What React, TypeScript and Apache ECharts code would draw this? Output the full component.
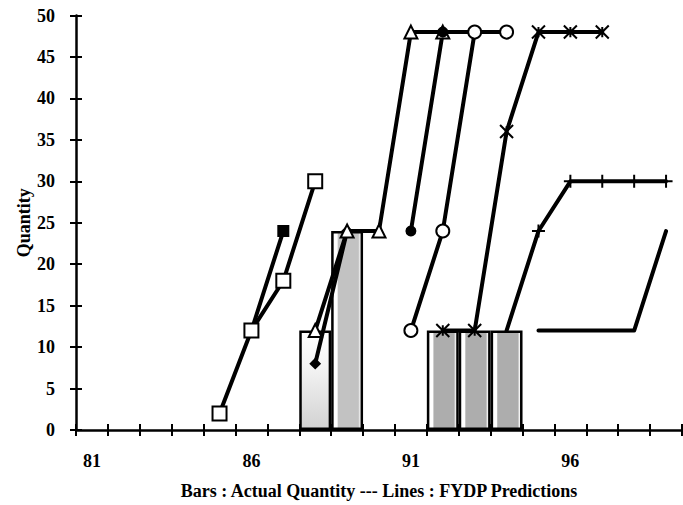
import React, { useEffect, useRef } from "react";
import * as echarts from "echarts";

// ---- data (year, quantity) ----
const years = ["81", "82", "83", "84", "85", "86", "87", "88", "89", "90", "91", "92", "93", "94", "95", "96", "97", "98", "99"];
const yTicks = { min: 0, max: 50, step: 5 };

const actualQty: [number, number][] = [[88, 12], [89, 24], [92, 12], [93, 12], [94, 12]];

const predSquare: [number, number][] = [[85, 2], [86, 12], [87, 18], [88, 30]];
const predFilledSquare: [number, number][] = [[86, 12], [87, 24]];
const predDiamond: [number, number][] = [[88, 8], [89, 24]];
const predTriangle: [number, number][] = [[88, 12], [89, 24], [90, 24], [91, 48], [92, 48]];
const predDot: [number, number][] = [[91, 24], [92, 48], [93, 48]];
const predCircle: [number, number][] = [[91, 12], [92, 24], [93, 48], [94, 48]];
const predStar: [number, number][] = [[92, 12], [93, 12], [94, 36], [95, 48], [96, 48], [97, 48]];
const predPlus: [number, number][] = [[94, 12], [95, 24], [96, 30], [97, 30], [98, 30], [99, 30]];
const predPlain: [number, number][] = [[95, 12], [96, 12], [97, 12], [98, 12], [99, 24]];

const xTitle = "Bars : Actual Quantity --- Lines : FYDP Predictions";
const yTitle = "Quantity";

const FONT = '"Liberation Serif", "Times New Roman", serif';

const toCat = (pts: [number, number][]) => pts.map(([x, y]) => [String(x), y]);

const STAR = "path://M0,0L10,10M10,0L0,10M5,1L5,9";
const PLUS = "path://M5,0L5,10M0,5L10,5";

function barFill(year: number) {
  if (year === 88) {
    return {
      type: "linear", x: 0, y: 0, x2: 0, y2: 1,
      colorStops: [
        { offset: 0, color: "#ffffff" },
        { offset: 0.35, color: "#f4f4f4" },
        { offset: 1, color: "#d2d2d2" },
      ],
    };
  }
  const g = year === 89 ? "#c2c2c2" : "#adadad";
  return {
    type: "linear", x: 0, y: 0, x2: 1, y2: 0,
    colorStops: [
      { offset: 0, color: "#ffffff" },
      { offset: 0.16, color: "#ffffff" },
      { offset: 0.2, color: g },
      { offset: 0.88, color: g },
      { offset: 0.95, color: "#ffffff" },
      { offset: 1, color: "#ffffff" },
    ],
  };
}

function lineSeries(name: string, pts: any[], symbol: string, size: number, filled: boolean, z = 3) {
  return {
    name,
    type: "line",
    data: pts,
    symbol,
    symbolSize: size,
    showSymbol: true,
    showAllSymbol: true,
    connectNulls: false,
    z,
    lineStyle: { color: "#000", width: 4, cap: "round", join: "round" },
    itemStyle: { color: filled ? "#000" : "#fff", borderColor: "#000", borderWidth: 2 },
    emphasis: { disabled: true },
  };
}

export default function App() {
  const ref = useRef<HTMLDivElement>(null);
  useEffect(() => {
    if (!ref.current) return;
    const chart = echarts.init(ref.current, null, { renderer: "svg" });
    const labelStyle = { color: "#000", fontSize: 18, fontWeight: "bold", fontFamily: FONT };

    const plusData = toCat(predPlus).map((d, i) => (i === 0 ? { value: d, symbol: "none" } : d));
    const plainData = toCat(predPlain);

    chart.setOption({
      animation: false,
      backgroundColor: "#fff",
      grid: { left: 76, right: 1, top: 15.5, bottom: 74.5 },
      xAxis: [
        {
          type: "category",
          data: years,
          position: "bottom",
          boundaryGap: true,
          axisLine: { onZero: false, lineStyle: { color: "#000", width: 2.5 } },
          axisTick: { show: true, interval: 0, length: 6, lineStyle: { color: "#000", width: 2 } },
          axisLabel: { ...labelStyle, interval: 4, margin: 22 },
          splitLine: { show: false },
          name: xTitle,
          nameLocation: "middle",
          nameGap: 52,
          nameMoveOverlap: false,
          nameTextStyle: { ...labelStyle },
        },
        {
          type: "category",
          data: years,
          position: "bottom",
          boundaryGap: true,
          axisLine: { show: false, onZero: false },
          axisTick: { show: true, inside: true, interval: 0, length: 6, lineStyle: { color: "#000", width: 2 } },
          axisLabel: { show: false },
          splitLine: { show: false },
        },
      ],
      yAxis: [
        {
          type: "value",
          min: yTicks.min,
          max: yTicks.max,
          interval: yTicks.step,
          position: "left",
          axisLine: { show: true, onZero: false, lineStyle: { color: "#000", width: 2.5 } },
          axisTick: { show: true, length: 6, lineStyle: { color: "#000", width: 2 } },
          axisLabel: { ...labelStyle, margin: 21 },
          splitLine: { show: false },
          name: yTitle,
          nameLocation: "middle",
          nameRotate: 90,
          nameGap: 43,
          nameMoveOverlap: false,
          nameTextStyle: { ...labelStyle },
        },
        {
          type: "value",
          min: yTicks.min,
          max: yTicks.max,
          interval: yTicks.step,
          position: "left",
          axisLine: { show: false, onZero: false },
          axisTick: { show: true, inside: true, length: 6, lineStyle: { color: "#000", width: 2 } },
          axisLabel: { show: false },
          splitLine: { show: false },
        },
      ],
      series: [
        {
          name: "Actual",
          type: "bar",
          barCategoryGap: "0%",
          z: 1,
          data: actualQty.map(([x, y]) => ({
            value: [String(x), y],
            itemStyle: { color: barFill(x) },
          })),
          itemStyle: { borderColor: "#000", borderWidth: 2.5 },
          emphasis: { disabled: true },
        },
        lineSeries("sq", toCat(predSquare), "rect", 14, false, 4),
        lineSeries("fsq", toCat(predFilledSquare), "rect", 10, true, 3),
        lineSeries("dia", toCat(predDiamond), "diamond", 9, true, 3),
        lineSeries("tri", toCat(predTriangle), "triangle", 13, false, 4),
        lineSeries("dot", toCat(predDot), "circle", 9, true, 4),
        lineSeries("circ", toCat(predCircle), "circle", 13, false, 5),
        lineSeries("star", toCat(predStar), STAR, 13, true, 5),
        lineSeries("plus", plusData, PLUS, 13, true, 5),
        { ...lineSeries("plain", plainData, "none", 1, true, 3), showSymbol: false },
      ],
    });
    return () => chart.dispose();
  }, []);
  return (
    <div
      ref={ref}
      style={{ position: "absolute", left: 0, top: 0, width: 683, height: 505, background: "#fff" }}
    />
  );
}
